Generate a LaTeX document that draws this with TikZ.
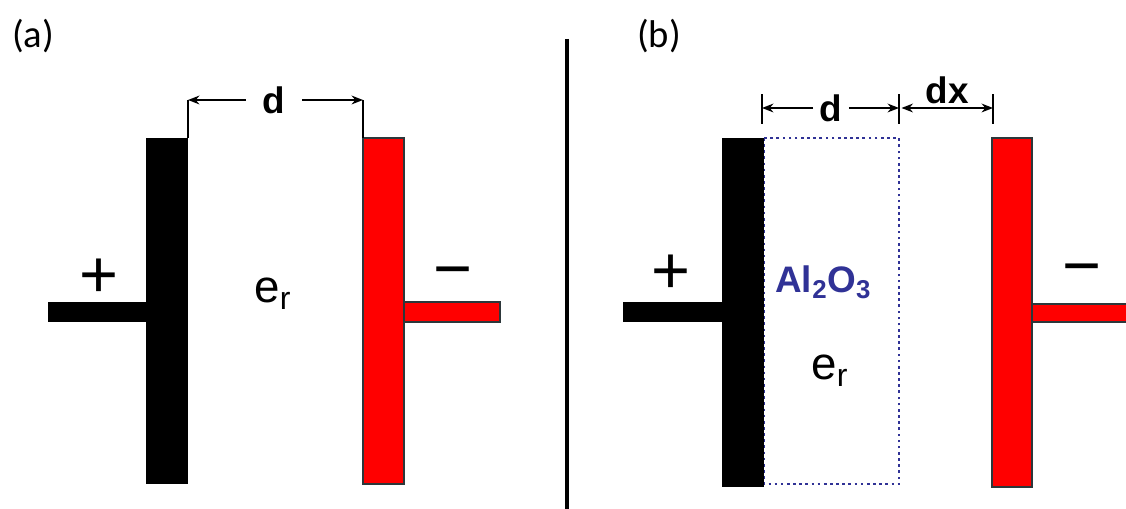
\documentclass[tikz,border=0pt]{standalone}
\usepackage{fontspec}
\setmainfont{Liberation Sans}
\newfontfamily\panelfont{Carlito}
\usetikzlibrary{arrows.meta}
\definecolor{plateedge}{RGB}{45,55,58}
\definecolor{oxide}{RGB}{48,50,150}

\begin{document}
\begin{tikzpicture}[>={Stealth[length=6.5pt,width=5pt]}, x=0.02cm, y=-0.02cm,
  posplate/.style={fill=black},
  negplate/.style={fill=red, draw=plateedge, line width=0.9pt},
  dimline/.style={line width=1pt},
  dimtxt/.style={font=\fontsize{21}{24}\selectfont\bfseries},
  symb/.style={font=\fontsize{38}{40}\selectfont},
  diel/.style={font=\fontsize{26}{30}\selectfont, inner sep=0pt, anchor=base west},
  panel/.style={font=\panelfont\fontsize{22}{26}\selectfont}]
  \useasboundingbox (0,0) rectangle (1126,509);

  % (a) plain parallel-plate capacitor
  \node[panel] (pa) at (33,36) {(a)};
  \fill[posplate] (48,302) rectangle (146,322);
  \fill[posplate] (146,138) rectangle (188,484);
  \draw[negplate] (404,302) rectangle (500,322);
  \draw[negplate] (363,138) rectangle (404,484);
  \node[symb] (plusa) at (99,278) {+};
  \node[symb] (minusa) at (453,279) {−};
  \node[diel] (era) at (254,303) {e\textsubscript{r}};
  \coordinate (a1) at (188,100);
  \coordinate (a2) at (363,100);
  \draw[dimline] (188,138) -- (a1);
  \draw[dimline] (363,138) -- (a2);
  \node[dimtxt, inner xsep=9.5pt] (da) at (274,100) {d};
  \draw[dimline, ->] (da.west |- a1) -- (a1);
  \draw[dimline, ->] (da.east |- a2) -- (a2);

  \draw[line width=2.3pt] (567,39) -- (567,509);

  % (b) oxide layer plus gap dx
  \node[panel] (pb) at (659,36) {(b)};
  \draw[oxide, line width=1.5pt, dash pattern=on 1.5pt off 2pt] (764,138) rectangle (899,484);
  \fill[posplate] (623,302) rectangle (722,322);
  \fill[posplate] (722,138) rectangle (764,487);
  \draw[negplate] (1032,304) rectangle (1130,322);
  \draw[negplate] (992,138) rectangle (1032,487);
  \node[symb] (plusb) at (671,274) {+};
  \node[symb] (minusb) at (1082,276) {−};
  \node[diel, oxide, font=\fontsize{21}{24}\selectfont\bfseries] (al) at (775,293)
    {Al\textsubscript{2}O\textsubscript{3}};
  \node[diel] (erb) at (811,380) {e\textsubscript{r}};
  \coordinate (b1) at (762,108);
  \coordinate (b2) at (899,108);
  \coordinate (b3) at (993,108);
  \foreach \p in {b1,b2,b3}
    \draw[dimline] ([yshift=-0.32cm]\p) -- ([yshift=0.28cm]\p);
  \node[dimtxt, inner xsep=3.5pt] (db) at (831,108) {d};
  \draw[dimline, ->] (db.west |- b1) -- (b1);
  \draw[dimline, ->] (db.east |- b2) -- (b2);
  \draw[dimline, <->] ([xshift=0.05cm]b2) -- (b3)
    node[midway, above, dimtxt, inner sep=2pt] (dx) {dx};
\end{tikzpicture}
\end{document}
